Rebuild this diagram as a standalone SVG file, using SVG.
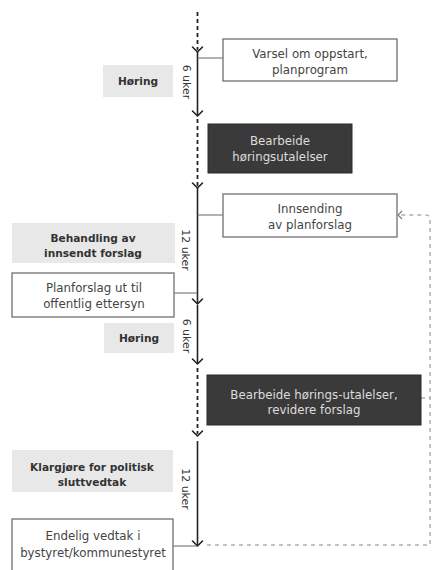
<svg xmlns="http://www.w3.org/2000/svg" width="433" height="570" viewBox="0 0 433 570">
<style>
text{font-family:"DejaVu Sans","Liberation Sans",sans-serif;text-anchor:middle}
.wb{fill:#fff;stroke:#7a7a7a;stroke-width:1.4}
.gb{fill:#e8e8e8;stroke:none}
.db{fill:#3a3a3a;stroke:#2a2a2a;stroke-width:1}
.wt{font-size:11.8px;fill:#444}
.gt{font-size:10.6px;font-weight:bold;fill:#333}
.dt{font-size:11.8px;fill:#ddd}
.ut{font-size:11px;fill:#333;dominant-baseline:central}
.solid{stroke:#222;stroke-width:1.6;fill:none}
.dash{stroke:#222;stroke-width:1.8;fill:none;stroke-dasharray:4 3}
.head{stroke:#222;stroke-width:1.6;fill:none;stroke-linecap:round;stroke-linejoin:round}
.conn{stroke:#666;stroke-width:1;fill:none}
.ret{stroke:#888;stroke-width:1;fill:none;stroke-dasharray:4 4}
.rethead{stroke:#777;stroke-width:1.1;fill:none}
</style>
<rect width="433" height="570" fill="#fff"/>
<g id="connectors">
<path class="dash" d="M197.5,12 V50"/>
<path class="solid" d="M197.5,52 V115"/>
<path class="dash" d="M197.5,119 V186"/>
<path class="solid" d="M197.5,188 V303"/>
<path class="solid" d="M197.5,305 V363"/>
<path class="dash" d="M197.5,368 V434"/>
<path class="solid" d="M197.5,441 V545"/>
<path class="head" d="M192.5,47 L197.5,52 L202.5,47"/>
<path class="head" d="M192.5,111 L197.5,116 L202.5,111"/>
<path class="head" d="M192.5,183 L197.5,188 L202.5,183"/>
<path class="head" d="M192.5,299 L197.5,304 L202.5,299"/>
<path class="head" d="M192.5,359 L197.5,364 L202.5,359"/>
<path class="head" d="M192.5,431 L197.5,436 L202.5,431"/>
<path class="head" d="M192.5,541 L197.5,546 L202.5,541"/>
<path class="conn" d="M197.5,58 H223"/>
<path class="conn" d="M197.5,215 H223"/>
<path class="conn" d="M174,293 H197.5"/>
<path class="conn" d="M173,546 H197.5"/>
<path class="ret" d="M207,545 H430 V219 Q430,215 426,215 H400"/>
<path class="ret" d="M421,398 H430"/>
<path class="rethead" d="M402,211 L398,215 L402,219"/>
<text class="ut" transform="translate(186,82) rotate(90)">6 uker</text>
<text class="ut" transform="translate(185,250) rotate(90)">12 uker</text>
<text class="ut" transform="translate(186,336) rotate(90)">6 uker</text>
<text class="ut" transform="translate(185,489) rotate(90)">12 uker</text>
</g>
<g id="varsel">
<rect class="wb" x="223" y="39" width="174" height="42"/>
<text class="wt" x="310" y="58">Varsel om oppstart,</text>
<text class="wt" x="310" y="74">planprogram</text>
</g>
<g id="horing1">
<rect class="gb" x="103" y="65" width="70" height="32"/>
<text class="gt" x="138" y="85">Høring</text>
</g>
<g id="bearbeide1">
<rect class="db" x="208" y="124" width="144" height="49"/>
<text class="dt" x="280" y="145">Bearbeide</text>
<text class="dt" x="280" y="161">høringsutalelser</text>
</g>
<g id="innsending">
<rect class="wb" x="223" y="194" width="174" height="43"/>
<text class="wt" x="310" y="213">Innsending</text>
<text class="wt" x="310" y="229">av planforslag</text>
</g>
<g id="behandling">
<rect class="gb" x="12" y="223" width="163" height="40"/>
<text class="gt" x="93" y="242">Behandling av</text>
<text class="gt" x="93" y="257">innsendt forslag</text>
</g>
<g id="planforslag">
<rect class="wb" x="12" y="273" width="162" height="44"/>
<text class="wt" x="94" y="292">Planforslag ut til</text>
<text class="wt" x="94" y="308">offentlig ettersyn</text>
</g>
<g id="horing2">
<rect class="gb" x="104" y="323" width="70" height="30"/>
<text class="gt" x="139" y="342">Høring</text>
</g>
<g id="bearbeide2">
<rect class="db" x="207" y="375" width="214" height="50"/>
<text class="dt" x="314" y="399">Bearbeide hørings-utalelser,</text>
<text class="dt" x="314" y="414">revidere forslag</text>
</g>
<g id="klargjore">
<rect class="gb" x="12" y="450" width="161" height="42"/>
<text class="gt" x="92" y="471">Klargjøre for politisk</text>
<text class="gt" x="92" y="486">sluttvedtak</text>
</g>
<g id="endelig">
<rect class="wb" x="12" y="519" width="161" height="60"/>
<text class="wt" x="93" y="540">Endelig vedtak i</text>
<text class="wt" x="93" y="557">bystyret/kommunestyret</text>
</g>
</svg>
